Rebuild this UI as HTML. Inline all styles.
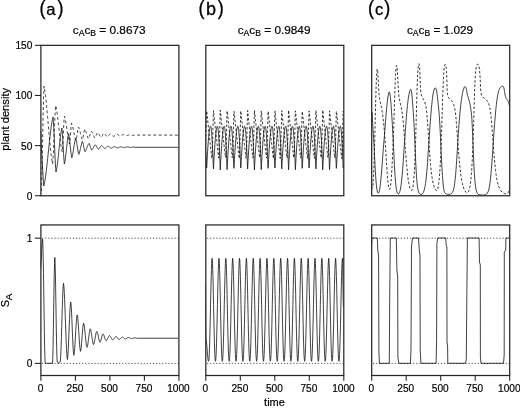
<!DOCTYPE html>
<html lang="en"><head><meta charset="utf-8"><title>Plant density and S_A time series</title>
<style>
html,body{margin:0;padding:0;background:#fff;}
body{width:520px;height:408px;overflow:hidden;}
svg{display:block;font-family:"Liberation Sans",sans-serif;}
.ax{fill:none;stroke:#262626;stroke-width:1.25;}
.tk{stroke:#262626;stroke-width:1.1;}
.ln{fill:none;stroke:#111;stroke-width:0.8;stroke-linejoin:round;}
.ds{fill:none;stroke:#111;stroke-width:0.8;stroke-dasharray:2.9 2.5;stroke-linejoin:round;}
.ds2{fill:none;stroke:#111;stroke-width:0.85;stroke-dasharray:2.5 1.9;stroke-linejoin:round;}
.ln2{fill:none;stroke:#1a1a1a;stroke-width:0.85;stroke-linejoin:round;}
.dot{fill:none;stroke:#444;stroke-width:1;stroke-dasharray:1.1 1.98;}
.t{font-size:11px;fill:#000;stroke:#000;stroke-width:0.2;}.tt{font-size:11.8px;fill:#000;stroke:#000;stroke-width:0.2;}.tn{font-size:11.5px;fill:#000;stroke:#000;stroke-width:0.2;}
.sub{font-size:8.6px;}
.lab{font-size:16.6px;fill:#000;stroke:#000;stroke-width:0.3;}.par{font-size:21px;fill:#000;stroke:#000;stroke-width:0.3;}
</style></head><body>
<svg width="520" height="408" viewBox="0 0 520 408">
<rect x="0" y="0" width="520" height="408" fill="#fff"/>
<defs>
<clipPath id="ct0"><rect x="40.5" y="45.5" width="138.0" height="150.0"/></clipPath>
<clipPath id="cb0"><rect x="40.5" y="225.5" width="138.0" height="150.0"/></clipPath>
<clipPath id="ct1"><rect x="205.5" y="45.5" width="138.0" height="150.0"/></clipPath>
<clipPath id="cb1"><rect x="205.5" y="225.5" width="138.0" height="150.0"/></clipPath>
<clipPath id="ct2"><rect x="371.5" y="45.5" width="138.0" height="150.0"/></clipPath>
<clipPath id="cb2"><rect x="371.5" y="225.5" width="138.0" height="150.0"/></clipPath>
</defs>
<line class="dot" x1="42.1" y1="238.2" x2="178.5" y2="238.2"/>
<line class="dot" x1="42.1" y1="363.4" x2="178.5" y2="363.4"/>
<line class="dot" x1="207.1" y1="238.2" x2="343.5" y2="238.2"/>
<line class="dot" x1="207.1" y1="363.4" x2="343.5" y2="363.4"/>
<line class="dot" x1="373.1" y1="238.2" x2="509.5" y2="238.2"/>
<line class="dot" x1="373.1" y1="363.4" x2="509.5" y2="363.4"/>
<g clip-path="url(#ct0)"><polyline class="ds" points="41.30,191.00 41.57,184.47 41.84,175.49 42.11,164.43 42.38,151.86 42.65,138.50 42.92,125.14 43.19,112.57 43.46,101.51 43.73,92.53 44.00,86.00 44.30,87.46 44.59,89.15 44.89,91.06 45.19,93.18 45.48,95.52 45.78,98.05 46.08,100.76 46.37,103.63 46.67,106.66 46.97,109.81 47.26,113.08 47.56,116.42 47.86,119.83 48.15,123.27 48.45,126.73 48.74,130.17 49.04,133.58 49.34,136.92 49.63,140.19 49.93,143.34 50.23,146.37 50.52,149.24 50.82,151.95 51.12,154.48 51.41,156.82 51.71,158.94 52.01,160.85 52.30,162.54 52.60,164.00 52.88,160.75 53.16,156.36 53.45,150.98 53.73,144.81 54.01,138.16 54.29,131.34 54.57,124.69 54.85,118.52 55.14,113.14 55.42,108.75 55.70,105.50 56.00,106.68 56.29,108.08 56.59,109.72 56.88,111.57 57.18,113.62 57.47,115.85 57.77,118.24 58.06,120.75 58.36,123.36 58.65,126.04 58.95,128.75 59.25,131.46 59.54,134.14 59.84,136.75 60.13,139.26 60.43,141.65 60.72,143.88 61.02,145.93 61.31,147.78 61.61,149.42 61.90,150.82 62.20,152.00 62.48,149.09 62.75,144.92 63.03,139.80 63.30,134.15 63.58,128.50 63.85,123.38 64.12,119.21 64.40,116.30 64.69,117.17 64.98,118.26 65.27,119.54 65.56,121.00 65.84,122.62 66.13,124.38 66.42,126.24 66.71,128.18 67.00,130.15 67.29,132.12 67.58,134.06 67.87,135.92 68.16,137.68 68.44,139.30 68.73,140.76 69.02,142.04 69.31,143.13 69.60,144.00 69.87,142.00 70.14,139.07 70.41,135.50 70.69,131.70 70.96,128.13 71.23,125.20 71.50,123.20 71.80,123.87 72.10,124.73 72.40,125.76 72.70,126.94 73.00,128.25 73.30,129.65 73.60,131.11 73.90,132.59 74.20,134.05 74.50,135.45 74.80,136.76 75.10,137.94 75.40,138.97 75.70,139.83 76.00,140.50 76.28,139.55 76.56,138.21 76.83,136.56 77.11,134.71 77.39,132.79 77.67,130.94 77.94,129.29 78.22,127.95 78.50,127.00 78.78,127.54 79.06,128.23 79.34,129.07 79.61,130.03 79.89,131.10 80.17,132.23 80.45,133.40 80.73,134.57 81.01,135.70 81.29,136.77 81.56,137.73 81.84,138.57 82.12,139.26 82.40,139.80 82.70,138.92 83.00,137.66 83.30,136.11 83.60,134.40 83.90,132.69 84.20,131.14 84.50,129.88 84.80,129.00 85.08,129.44 85.35,130.02 85.63,130.73 85.91,131.54 86.18,132.43 86.46,133.37 86.74,134.33 87.02,135.27 87.29,136.16 87.57,136.97 87.85,137.68 88.12,138.26 88.40,138.70 88.70,138.23 89.00,137.59 89.30,136.80 89.60,135.90 89.90,134.95 90.20,134.00 90.50,133.10 90.80,132.31 91.10,131.67 91.40,131.20 91.68,131.54 91.97,131.99 92.25,132.55 92.53,133.18 92.82,133.88 93.10,134.60 93.38,135.32 93.67,136.02 93.95,136.65 94.23,137.21 94.52,137.66 94.80,138.00 95.08,137.65 95.36,137.17 95.64,136.58 95.92,135.91 96.20,135.20 96.48,134.49 96.76,133.82 97.04,133.23 97.32,132.75 97.60,132.40 97.88,132.65 98.17,132.98 98.45,133.39 98.73,133.86 99.02,134.37 99.30,134.90 99.58,135.43 99.87,135.94 100.15,136.41 100.43,136.82 100.72,137.15 101.00,137.40 101.30,137.14 101.60,136.78 101.90,136.34 102.20,135.83 102.50,135.30 102.80,134.77 103.10,134.26 103.40,133.82 103.70,133.46 104.00,133.20 104.30,133.41 104.60,133.68 104.90,134.02 105.20,134.41 105.50,134.83 105.80,135.27 106.10,135.69 106.40,136.08 106.70,136.42 107.00,136.69 107.30,136.90 107.58,136.73 107.86,136.50 108.15,136.21 108.43,135.88 108.71,135.53 108.99,135.17 109.27,134.82 109.55,134.49 109.84,134.20 110.12,133.97 110.40,133.80 110.69,133.94 110.98,134.14 111.27,134.38 111.56,134.65 111.85,134.95 112.15,135.25 112.44,135.55 112.73,135.82 113.02,136.06 113.31,136.26 113.60,136.40 113.89,136.28 114.18,136.11 114.47,135.91 114.76,135.68 115.05,135.43 115.35,135.17 115.64,134.92 115.93,134.69 116.22,134.49 116.51,134.32 116.80,134.20 117.09,134.30 117.38,134.44 117.67,134.60 117.96,134.79 118.25,135.00 118.55,135.20 118.84,135.41 119.13,135.60 119.42,135.76 119.71,135.90 120.00,136.00 120.29,135.92 120.58,135.80 120.87,135.67 121.16,135.51 121.45,135.34 121.75,135.16 122.04,134.99 122.33,134.83 122.62,134.70 122.91,134.58 123.20,134.50 123.49,134.57 123.78,134.66 124.07,134.77 124.36,134.89 124.65,135.03 124.95,135.17 125.24,135.31 125.53,135.43 125.82,135.54 126.11,135.63 126.40,135.70 126.69,135.64 126.98,135.57 127.27,135.48 127.56,135.37 127.85,135.26 128.15,135.14 128.44,135.03 128.73,134.92 129.02,134.83 129.31,134.76 129.60,134.70 129.89,134.74 130.18,134.80 130.47,134.88 130.76,134.96 131.05,135.05 131.34,135.14 131.63,135.22 131.92,135.30 132.21,135.36 132.50,135.40 132.78,135.38 133.06,135.35 133.33,135.31 133.61,135.27 133.89,135.23 134.17,135.19 134.44,135.15 134.72,135.12 135.00,135.10 178.50,135.10"/><polyline class="ln" points="40.90,131.00 41.15,140.50 41.40,150.00 41.70,152.94 42.00,157.14 42.30,162.31 42.60,168.00 42.90,173.69 43.20,178.86 43.50,183.06 43.80,186.00 44.10,184.80 44.39,183.42 44.69,181.87 44.99,180.15 45.28,178.27 45.58,176.23 45.88,174.05 46.17,171.73 46.47,169.29 46.77,166.75 47.06,164.10 47.36,161.39 47.66,158.61 47.95,155.78 48.25,152.93 48.55,150.07 48.85,147.22 49.14,144.39 49.44,141.61 49.74,138.90 50.03,136.25 50.33,133.71 50.63,131.27 50.92,128.95 51.22,126.77 51.52,124.73 51.81,122.85 52.11,121.13 52.41,119.58 52.70,118.20 53.00,117.00 53.30,120.42 53.60,125.13 53.90,130.92 54.20,137.50 54.50,144.50 54.80,151.50 55.10,158.08 55.40,163.87 55.70,168.58 56.00,172.00 56.30,170.76 56.59,169.26 56.88,167.50 57.18,165.50 57.48,163.28 57.77,160.87 58.06,158.29 58.36,155.60 58.66,152.82 58.95,150.00 59.24,147.18 59.54,144.40 59.84,141.71 60.13,139.13 60.42,136.72 60.72,134.50 61.02,132.50 61.31,130.74 61.60,129.24 61.90,128.00 62.18,130.54 62.46,134.11 62.73,138.50 63.01,143.44 63.29,148.56 63.57,153.50 63.84,157.89 64.12,161.46 64.40,164.00 64.70,162.72 65.00,161.07 65.30,159.07 65.60,156.77 65.90,154.24 66.20,151.54 66.50,148.75 66.80,145.96 67.10,143.26 67.40,140.73 67.70,138.43 68.00,136.43 68.30,134.78 68.60,133.50 68.89,134.85 69.18,136.67 69.47,138.91 69.76,141.47 70.05,144.23 70.35,147.07 70.64,149.83 70.93,152.39 71.22,154.63 71.51,156.45 71.80,157.80 72.08,156.98 72.36,155.91 72.64,154.63 72.91,153.16 73.19,151.53 73.47,149.79 73.75,148.00 74.03,146.21 74.31,144.47 74.59,142.84 74.86,141.37 75.14,140.09 75.42,139.02 75.70,138.20 75.98,139.10 76.26,140.32 76.55,141.81 76.83,143.51 77.11,145.36 77.39,147.24 77.67,149.09 77.95,150.79 78.24,152.28 78.52,153.50 78.80,154.40 79.08,153.81 79.35,153.03 79.63,152.08 79.91,151.00 80.18,149.80 80.46,148.54 80.74,147.26 81.02,146.00 81.29,144.80 81.57,143.72 81.85,142.77 82.12,141.99 82.40,141.40 82.69,142.12 82.98,143.13 83.27,144.38 83.56,145.77 83.84,147.23 84.13,148.62 84.42,149.87 84.71,150.88 85.00,151.60 85.29,151.26 85.57,150.81 85.86,150.27 86.14,149.66 86.43,148.98 86.71,148.25 87.00,147.50 87.29,146.75 87.57,146.02 87.86,145.34 88.14,144.73 88.43,144.19 88.71,143.74 89.00,143.40 89.28,143.81 89.56,144.38 89.84,145.07 90.12,145.86 90.40,146.70 90.68,147.54 90.96,148.33 91.24,149.02 91.52,149.59 91.80,150.00 92.09,149.74 92.38,149.39 92.67,148.97 92.97,148.48 93.26,147.95 93.55,147.40 93.84,146.85 94.13,146.32 94.42,145.83 94.72,145.41 95.01,145.06 95.30,144.80 95.58,145.04 95.86,145.37 96.15,145.78 96.43,146.24 96.71,146.74 96.99,147.26 97.27,147.76 97.55,148.22 97.84,148.63 98.12,148.96 98.40,149.20 98.69,149.00 98.98,148.73 99.27,148.40 99.56,148.02 99.85,147.61 100.15,147.19 100.44,146.78 100.73,146.40 101.02,146.07 101.31,145.80 101.60,145.60 101.89,145.77 102.18,145.99 102.47,146.27 102.76,146.58 103.05,146.93 103.35,147.27 103.64,147.62 103.93,147.93 104.22,148.21 104.51,148.43 104.80,148.60 105.09,148.46 105.38,148.27 105.67,148.04 105.96,147.78 106.25,147.50 106.55,147.20 106.84,146.92 107.13,146.66 107.42,146.43 107.71,146.24 108.00,146.10 108.29,146.22 108.58,146.37 108.87,146.57 109.16,146.79 109.45,147.03 109.75,147.27 110.04,147.51 110.33,147.73 110.62,147.93 110.91,148.08 111.20,148.20 111.49,148.11 111.78,147.98 112.07,147.82 112.36,147.64 112.65,147.45 112.95,147.25 113.24,147.06 113.53,146.88 113.82,146.72 114.11,146.59 114.40,146.50 114.69,146.58 114.98,146.68 115.27,146.81 115.56,146.96 115.85,147.12 116.15,147.28 116.44,147.44 116.73,147.59 117.02,147.72 117.31,147.82 117.60,147.90 117.89,147.83 118.18,147.74 118.47,147.63 118.76,147.51 119.05,147.37 119.35,147.23 119.64,147.09 119.93,146.97 120.22,146.86 120.51,146.77 120.80,146.70 121.09,146.76 121.38,146.83 121.67,146.92 121.96,147.03 122.25,147.14 122.55,147.26 122.84,147.37 123.13,147.48 123.42,147.57 123.71,147.64 124.00,147.70 124.29,147.66 124.58,147.60 124.87,147.52 125.16,147.44 125.45,147.35 125.75,147.25 126.04,147.16 126.33,147.08 126.62,147.00 126.91,146.94 127.20,146.90 127.49,146.93 127.78,146.98 128.07,147.03 128.36,147.10 128.65,147.17 128.95,147.23 129.24,147.30 129.53,147.37 129.82,147.42 130.11,147.47 130.40,147.50 130.69,147.46 130.98,147.42 131.27,147.35 131.56,147.29 131.84,147.21 132.13,147.15 132.42,147.08 132.71,147.04 133.00,147.00 133.29,147.03 133.57,147.07 133.86,147.12 134.14,147.18 134.43,147.23 134.71,147.27 135.00,147.30 178.50,147.30"/></g>
<g clip-path="url(#cb0)"><polyline class="ln" points="40.50,268.07 40.76,266.47 41.02,263.25 41.29,258.79 41.55,253.66 41.81,248.53 42.08,244.07 42.34,240.85 42.60,239.25 42.89,245.00 43.18,256.37 43.47,272.33 43.76,291.28 44.04,311.27 44.33,330.22 44.62,346.18 44.91,357.55 45.20,363.30 52.50,363.30 52.79,357.43 53.08,345.60 53.36,329.21 53.65,310.36 53.94,291.51 54.22,275.12 54.51,263.29 54.80,257.42 55.07,262.26 55.33,271.83 55.60,285.25 55.87,301.20 56.13,318.02 56.40,333.96 56.67,347.39 56.93,356.96 57.20,361.80 57.47,361.93 57.73,362.20 58.00,362.55 58.27,362.90 58.53,363.17 58.80,363.30 59.08,363.12 59.36,362.76 59.64,362.33 59.92,361.97 60.20,361.80 60.50,359.10 60.80,353.96 61.10,346.69 61.40,337.75 61.70,327.76 62.00,317.40 62.30,307.40 62.60,298.47 62.90,291.19 63.20,286.06 63.50,283.36 63.78,285.21 64.06,288.55 64.34,293.27 64.61,299.19 64.89,306.05 65.17,313.58 65.45,321.45 65.73,329.32 66.01,336.85 66.29,343.71 66.56,349.63 66.84,354.35 67.12,357.69 67.40,359.54 67.70,357.56 68.00,353.79 68.30,348.44 68.60,341.87 68.90,334.53 69.20,326.92 69.50,319.57 69.80,313.00 70.10,307.66 70.40,303.88 70.70,301.90 70.98,303.74 71.26,307.23 71.55,312.18 71.83,318.27 72.11,325.07 72.39,332.12 72.67,338.92 72.95,345.00 73.24,349.95 73.52,353.45 73.80,355.28 74.08,354.06 74.37,351.77 74.65,348.54 74.93,344.52 75.22,339.96 75.50,335.11 75.78,330.26 76.07,325.69 76.35,321.68 76.63,318.44 76.92,316.16 77.20,314.93 77.50,316.19 77.80,318.58 78.10,321.96 78.40,326.11 78.70,330.76 79.00,335.57 79.30,340.22 79.60,344.37 79.90,347.76 80.20,350.14 80.50,351.40 80.78,350.43 81.06,348.58 81.35,345.97 81.63,342.75 81.91,339.16 82.19,335.44 82.47,331.85 82.75,328.63 83.04,326.02 83.32,324.17 83.60,323.20 83.88,323.94 84.17,325.31 84.45,327.25 84.73,329.65 85.02,332.39 85.30,335.30 85.58,338.20 85.87,340.94 86.15,343.34 86.43,345.28 86.72,346.65 87.00,347.39 87.30,346.75 87.60,345.54 87.90,343.82 88.20,341.70 88.50,339.34 88.80,336.89 89.10,334.53 89.40,332.41 89.70,330.69 90.00,329.48 90.30,328.84 90.59,329.38 90.88,330.41 91.17,331.86 91.46,333.64 91.75,335.64 92.05,337.71 92.34,339.70 92.63,341.49 92.92,342.94 93.21,343.97 93.50,344.50 93.80,344.05 94.10,343.19 94.40,341.97 94.70,340.47 95.00,338.80 95.30,337.06 95.60,335.38 95.90,333.88 96.20,332.66 96.50,331.80 96.80,331.35 97.09,331.72 97.38,332.44 97.67,333.45 97.96,334.69 98.25,336.08 98.55,337.52 98.84,338.91 99.13,340.15 99.42,341.16 99.71,341.87 100.00,342.25 100.30,341.92 100.60,341.27 100.90,340.36 101.20,339.26 101.50,338.05 101.80,336.85 102.10,335.74 102.40,334.83 102.70,334.19 103.00,333.85 103.29,334.09 103.58,334.54 103.87,335.18 104.16,335.97 104.45,336.85 104.75,337.76 105.04,338.63 105.33,339.42 105.62,340.06 105.91,340.51 106.20,340.75 106.50,340.57 106.80,340.22 107.10,339.73 107.40,339.13 107.70,338.46 108.00,337.77 108.30,337.10 108.60,336.50 108.90,336.01 109.20,335.66 109.50,335.48 109.79,335.63 110.08,335.92 110.37,336.33 110.66,336.83 110.95,337.39 111.25,337.97 111.54,338.52 111.83,339.02 112.12,339.43 112.41,339.72 112.70,339.87 113.00,339.75 113.30,339.53 113.60,339.22 113.90,338.83 114.20,338.40 114.50,337.95 114.80,337.52 115.10,337.14 115.40,336.82 115.70,336.60 116.00,336.49 116.29,336.58 116.58,336.77 116.87,337.04 117.16,337.37 117.45,337.74 117.75,338.12 118.04,338.48 118.33,338.81 118.62,339.08 118.91,339.27 119.20,339.37 119.48,339.29 119.76,339.14 120.05,338.93 120.33,338.68 120.61,338.39 120.89,338.09 121.17,337.80 121.45,337.55 121.74,337.34 122.02,337.19 122.30,337.11 122.58,337.18 122.86,337.30 123.15,337.47 123.43,337.69 123.71,337.93 123.99,338.18 124.27,338.42 124.55,338.63 124.84,338.80 125.12,338.93 125.40,338.99 125.68,338.94 125.96,338.84 126.25,338.70 126.53,338.53 126.81,338.34 127.09,338.14 127.37,337.95 127.65,337.78 127.94,337.64 128.22,337.54 128.50,337.49 128.78,337.53 129.06,337.60 129.35,337.71 129.63,337.83 129.91,337.98 130.19,338.13 130.47,338.27 130.75,338.40 131.04,338.50 131.32,338.58 131.60,338.62 131.89,338.59 132.18,338.53 132.47,338.45 132.76,338.35 133.05,338.24 133.34,338.13 133.63,338.03 133.92,337.95 134.21,337.89 134.50,337.86 134.78,337.88 135.06,337.92 135.33,337.96 135.61,338.02 135.89,338.08 136.17,338.14 136.44,338.19 136.72,338.22 137.00,338.24 178.50,338.24"/></g>
<g clip-path="url(#ct1)"><polyline class="ln2" points="205.50,150.00 206.10,156.76 206.30,161.71 206.50,167.12 206.70,168.02 206.90,163.95 207.10,160.20 207.30,156.66 207.50,153.29 207.70,150.10 207.90,147.07 208.10,144.21 208.30,141.53 208.50,139.04 208.70,136.75 208.90,134.67 209.09,132.80 209.29,131.15 209.49,129.72 209.69,128.54 209.89,127.59 210.09,126.88 210.29,126.43 210.49,126.21 210.69,126.30 210.89,126.85 211.09,127.87 211.29,129.35 211.49,131.28 211.69,133.64 211.89,136.42 212.09,139.60 212.29,143.14 212.49,147.04 212.69,151.27 212.89,155.81 213.09,160.69 213.29,165.99 213.49,168.91 213.69,164.73 213.89,160.93 214.09,157.35 214.29,153.95 214.49,150.72 214.69,147.66 214.89,144.76 215.09,142.05 215.29,139.52 215.49,137.19 215.69,135.07 215.88,133.15 216.08,131.46 216.28,129.99 216.48,128.76 216.68,127.76 216.88,127.00 217.08,126.50 217.28,126.24 217.48,126.25 217.68,126.70 217.88,127.63 218.08,129.02 218.28,130.86 218.48,133.14 218.68,135.84 218.88,138.93 219.08,142.41 219.28,146.24 219.48,150.40 219.68,154.88 219.88,159.69 220.08,164.88 220.28,169.87 220.48,165.52 220.68,161.67 220.88,158.05 221.08,154.62 221.28,151.35 221.48,148.25 221.68,145.33 221.88,142.58 222.08,140.01 222.28,137.64 222.48,135.47 222.68,133.52 222.87,131.78 223.07,130.26 223.27,128.98 223.47,127.94 223.67,127.14 223.87,126.58 224.07,126.27 224.27,126.22 224.47,126.58 224.67,127.41 224.87,128.71 225.07,130.46 225.27,132.65 225.47,135.27 225.67,138.29 225.87,141.69 226.07,145.44 226.27,149.54 226.47,153.96 226.67,158.70 226.87,163.81 227.07,169.60 227.27,166.33 227.47,162.41 227.67,158.76 227.87,155.29 228.07,151.99 228.27,148.86 228.47,145.90 228.67,143.11 228.87,140.51 229.07,138.10 229.27,135.89 229.47,133.89 229.66,132.11 229.86,130.55 230.06,129.22 230.26,128.13 230.46,127.28 230.66,126.67 230.86,126.31 231.06,126.20 231.26,126.47 231.46,127.20 231.66,128.41 231.86,130.07 232.06,132.18 232.26,134.71 232.46,137.65 232.66,140.98 232.86,144.67 233.06,148.70 233.26,153.05 233.46,157.73 233.66,162.75 233.86,168.32 234.06,167.15 234.26,163.17 234.46,159.47 234.66,155.97 234.86,152.63 235.06,149.47 235.26,146.47 235.46,143.65 235.66,141.01 235.86,138.56 236.06,136.31 236.26,134.27 236.46,132.45 236.65,130.84 236.85,129.47 237.05,128.33 237.25,127.43 237.45,126.77 237.65,126.36 237.85,126.20 238.05,126.38 238.25,127.02 238.45,128.13 238.65,129.70 238.85,131.72 239.05,134.17 239.25,137.03 239.45,140.28 239.65,143.90 239.85,147.87 240.05,152.16 240.25,156.77 240.45,161.72 240.65,167.14 240.85,168.01 241.05,163.94 241.25,160.19 241.45,156.65 241.65,153.29 241.85,150.09 242.05,147.06 242.25,144.20 242.45,141.53 242.65,139.04 242.85,136.75 243.05,134.66 243.25,132.79 243.45,131.14 243.64,129.72 243.84,128.53 244.04,127.59 244.24,126.88 244.44,126.42 244.64,126.21 244.84,126.30 245.04,126.85 245.24,127.87 245.44,129.35 245.64,131.29 245.84,133.65 246.04,136.43 246.24,139.61 246.44,143.15 246.64,147.05 246.84,151.28 247.04,155.82 247.24,160.70 247.44,166.00 247.64,168.90 247.84,164.72 248.04,160.92 248.24,157.34 248.44,153.94 248.64,150.71 248.84,147.65 249.04,144.76 249.24,142.04 249.44,139.52 249.64,137.19 249.84,135.06 250.04,133.15 250.24,131.45 250.43,129.99 250.63,128.75 250.83,127.76 251.03,127.00 251.23,126.50 251.43,126.24 251.63,126.25 251.83,126.71 252.03,127.63 252.23,129.02 252.43,130.87 252.63,133.15 252.83,135.84 253.03,138.94 253.23,142.42 253.43,146.25 253.63,150.41 253.83,154.89 254.03,159.70 254.23,164.90 254.43,169.85 254.63,165.51 254.83,161.66 255.03,158.04 255.23,154.61 255.43,151.34 255.63,148.25 255.83,145.32 256.03,142.57 256.23,140.01 256.43,137.64 256.63,135.47 256.83,133.51 257.03,131.77 257.23,130.26 257.42,128.98 257.62,127.94 257.82,127.13 258.02,126.58 258.22,126.27 258.42,126.22 258.62,126.58 258.82,127.41 259.02,128.71 259.22,130.46 259.42,132.66 259.62,135.27 259.82,138.29 260.02,141.69 260.22,145.45 260.42,149.55 260.62,153.97 260.82,158.71 261.02,163.82 261.22,169.61 261.42,166.32 261.62,162.40 261.82,158.75 262.02,155.28 262.22,151.98 262.42,148.85 262.62,145.89 262.82,143.10 263.02,140.50 263.22,138.09 263.42,135.89 263.62,133.89 263.82,132.10 264.02,130.54 264.21,129.22 264.41,128.12 264.61,127.27 264.81,126.67 265.01,126.31 265.21,126.20 265.41,126.47 265.61,127.21 265.81,128.41 266.01,130.08 266.21,132.18 266.41,134.72 266.61,137.66 266.81,140.99 267.01,144.68 267.21,148.71 267.41,153.07 267.61,157.74 267.81,162.77 268.01,168.34 268.21,167.14 268.41,163.16 268.61,159.46 268.81,155.96 269.01,152.63 269.21,149.46 269.41,146.47 269.61,143.65 269.81,141.01 270.01,138.56 270.21,136.31 270.41,134.27 270.61,132.44 270.81,130.84 271.01,129.46 271.20,128.32 271.40,127.42 271.60,126.77 271.80,126.36 272.00,126.20 272.20,126.38 272.40,127.02 272.60,128.14 272.80,129.71 273.00,131.73 273.20,134.18 273.40,137.04 273.60,140.29 273.80,143.91 274.00,147.88 274.20,152.17 274.40,156.78 274.60,161.73 274.80,167.15 275.00,168.00 275.20,163.93 275.40,160.18 275.60,156.64 275.80,153.28 276.00,150.08 276.20,147.05 276.40,144.19 276.60,141.52 276.80,139.03 277.00,136.74 277.20,134.66 277.40,132.79 277.60,131.14 277.80,129.72 277.99,128.53 278.19,127.58 278.39,126.88 278.59,126.42 278.79,126.21 278.99,126.30 279.19,126.86 279.39,127.88 279.59,129.36 279.79,131.29 279.99,133.66 280.19,136.44 280.39,139.61 280.59,143.16 280.79,147.06 280.99,151.29 281.19,155.84 281.39,160.72 281.59,166.02 281.79,168.88 281.99,164.71 282.19,160.91 282.39,157.33 282.59,153.94 282.79,150.70 282.99,147.64 283.19,144.75 283.39,142.04 283.59,139.51 283.79,137.18 283.99,135.06 284.19,133.14 284.39,131.45 284.59,129.98 284.79,128.75 284.98,127.75 285.18,127.00 285.38,126.49 285.58,126.24 285.78,126.25 285.98,126.71 286.18,127.64 286.38,129.03 286.58,130.87 286.78,133.15 286.98,135.85 287.18,138.95 287.38,142.43 287.58,146.26 287.78,150.42 287.98,154.90 288.18,159.71 288.38,164.91 288.58,169.84 288.78,165.50 288.98,161.65 289.18,158.03 289.38,154.60 289.58,151.34 289.78,148.24 289.98,145.31 290.18,142.56 290.38,140.00 290.58,137.63 290.78,135.46 290.98,133.51 291.18,131.77 291.38,130.26 291.58,128.98 291.77,127.93 291.97,127.13 292.17,126.58 292.37,126.27 292.57,126.22 292.77,126.58 292.97,127.41 293.17,128.71 293.37,130.47 293.57,132.66 293.77,135.28 293.97,138.30 294.17,141.70 294.37,145.46 294.57,149.56 294.77,153.98 294.97,158.73 295.17,163.84 295.37,169.63 295.57,166.31 295.77,162.40 295.97,158.74 296.17,155.27 296.37,151.97 296.57,148.84 296.77,145.88 296.97,143.10 297.17,140.50 297.37,138.09 297.57,135.88 297.77,133.88 297.97,132.10 298.17,130.54 298.37,129.21 298.57,128.12 298.76,127.27 298.96,126.67 299.16,126.31 299.36,126.20 299.56,126.47 299.76,127.21 299.96,128.42 300.16,130.08 300.36,132.19 300.56,134.73 300.76,137.67 300.96,141.00 301.16,144.69 301.36,148.72 301.56,153.08 301.76,157.75 301.96,162.78 302.16,168.35 302.36,167.13 302.56,163.15 302.76,159.45 302.96,155.95 303.16,152.62 303.36,149.45 303.56,146.46 303.76,143.64 303.96,141.00 304.16,138.55 304.36,136.30 304.56,134.26 304.76,132.44 304.96,130.83 305.16,129.46 305.36,128.32 305.55,127.42 305.75,126.77 305.95,126.36 306.15,126.20 306.35,126.38 306.55,127.02 306.75,128.14 306.95,129.71 307.15,131.73 307.35,134.19 307.55,137.05 307.75,140.30 307.95,143.92 308.15,147.89 308.35,152.18 308.55,156.79 308.75,161.75 308.95,167.17 309.15,167.99 309.35,163.92 309.55,160.17 309.75,156.63 309.95,153.27 310.15,150.07 310.35,147.04 310.55,144.19 310.75,141.51 310.95,139.03 311.15,136.74 311.35,134.65 311.55,132.78 311.75,131.13 311.95,129.71 312.15,128.53 312.35,127.58 312.54,126.88 312.74,126.42 312.94,126.21 313.14,126.30 313.34,126.86 313.54,127.88 313.74,129.36 313.94,131.30 314.14,133.66 314.34,136.45 314.54,139.62 314.74,143.17 314.94,147.07 315.14,151.30 315.34,155.85 315.54,160.73 315.74,166.03 315.94,168.87 316.14,164.70 316.34,160.90 316.54,157.32 316.74,153.93 316.94,150.70 317.14,147.63 317.34,144.74 317.54,142.03 317.74,139.51 317.94,137.18 318.14,135.05 318.34,133.14 318.54,131.45 318.74,129.98 318.94,128.75 319.14,127.75 319.34,127.00 319.53,126.49 319.73,126.24 319.93,126.25 320.13,126.71 320.33,127.64 320.53,129.03 320.73,130.88 320.93,133.16 321.13,135.86 321.33,138.96 321.53,142.44 321.73,146.27 321.93,150.43 322.13,154.92 322.33,159.73 322.53,164.93 322.73,169.83 322.93,165.49 323.13,161.64 323.33,158.02 323.53,154.59 323.73,151.33 323.93,148.23 324.13,145.31 324.33,142.56 324.53,139.99 324.73,137.63 324.93,135.46 325.13,133.50 325.33,131.77 325.53,130.25 325.73,128.97 325.93,127.93 326.13,127.13 326.32,126.58 326.52,126.27 326.72,126.22 326.92,126.58 327.12,127.42 327.32,128.72 327.52,130.47 327.72,132.67 327.92,135.29 328.12,138.31 328.32,141.71 328.52,145.47 328.72,149.57 328.92,154.00 329.12,158.74 329.32,163.85 329.52,169.65 329.72,166.30 329.92,162.39 330.12,158.73 330.32,155.26 330.52,151.97 330.72,148.84 330.92,145.88 331.12,143.09 331.32,140.49 331.52,138.08 331.72,135.87 331.92,133.88 332.12,132.09 332.32,130.54 332.52,129.21 332.72,128.12 332.92,127.27 333.12,126.67 333.31,126.31 333.51,126.20 333.71,126.47 333.91,127.21 334.11,128.42 334.31,130.09 334.51,132.20 334.71,134.73 334.91,137.68 335.11,141.00 335.31,144.70 335.51,148.73 335.71,153.09 335.91,157.77 336.11,162.79 336.31,168.37 336.51,167.12 336.71,163.14 336.91,159.44 337.11,155.94 337.31,152.61 337.51,149.45 337.71,146.45 337.91,143.63 338.11,140.99 338.31,138.55 338.51,136.30 338.71,134.26 338.91,132.43 339.11,130.83 339.31,129.46 339.51,128.32 339.71,127.42 339.91,126.77 340.10,126.36 340.30,126.20 340.50,126.38 340.70,127.03 340.90,128.14 341.10,129.72 341.30,131.74 341.50,134.19 341.70,137.06 341.90,140.31 342.10,143.93 342.30,147.90 342.50,152.19 342.70,156.81 342.90,161.76 343.10,167.18 343.30,167.97 343.50,163.91"/><polyline class="ds2" points="205.50,149.75 205.70,143.72 205.90,137.06 206.10,129.87 206.30,122.24 206.50,114.21 206.70,110.94 206.90,112.84 207.10,114.75 207.30,116.64 207.50,118.54 207.70,120.43 207.90,122.31 208.10,124.19 208.30,126.07 208.50,127.94 208.70,129.80 208.90,131.66 209.09,133.51 209.29,135.36 209.49,137.20 209.69,139.03 209.89,140.86 210.09,142.67 210.29,144.47 210.49,146.27 210.69,148.05 210.89,149.82 211.09,151.57 211.29,153.30 211.49,155.00 211.69,156.66 211.89,158.24 212.09,155.80 212.29,150.86 212.49,144.98 212.69,138.43 212.89,131.34 213.09,123.79 213.29,115.84 213.49,110.56 213.69,112.46 213.89,114.37 214.09,116.27 214.29,118.16 214.49,120.05 214.69,121.94 214.89,123.82 215.09,125.69 215.29,127.56 215.49,129.43 215.69,131.29 215.88,133.14 216.08,134.99 216.28,136.83 216.48,138.67 216.68,140.49 216.88,142.31 217.08,144.12 217.28,145.91 217.48,147.70 217.68,149.47 217.88,151.22 218.08,152.95 218.28,154.66 218.48,156.33 218.68,157.94 218.88,156.62 219.08,151.93 219.28,146.21 219.48,139.78 219.68,132.79 219.88,125.33 220.08,117.46 220.28,110.18 220.48,112.08 220.68,113.99 220.88,115.89 221.08,117.78 221.28,119.67 221.48,121.56 221.68,123.44 221.88,125.32 222.08,127.19 222.28,129.06 222.48,130.92 222.68,132.78 222.87,134.62 223.07,136.47 223.27,138.30 223.47,140.13 223.67,141.95 223.87,143.76 224.07,145.55 224.27,147.34 224.47,149.11 224.67,150.87 224.87,152.61 225.07,154.32 225.27,156.00 225.47,157.63 225.67,157.37 225.87,152.96 226.07,147.42 226.27,141.11 226.47,134.23 226.67,126.86 226.87,119.06 227.07,110.89 227.27,111.70 227.47,113.61 227.67,115.51 227.87,117.40 228.07,119.30 228.27,121.18 228.47,123.07 228.67,124.95 228.87,126.82 229.07,128.69 229.27,130.55 229.47,132.41 229.66,134.26 229.86,136.10 230.06,137.94 230.26,139.76 230.46,141.58 230.66,143.40 230.86,145.20 231.06,146.99 231.26,148.76 231.46,150.52 231.66,152.26 231.86,153.98 232.06,155.67 232.26,157.31 232.46,158.01 232.66,153.95 232.86,148.59 233.06,142.42 233.26,135.64 233.46,128.36 233.66,120.65 233.86,112.55 234.06,111.32 234.26,113.23 234.46,115.13 234.66,117.03 234.86,118.92 235.06,120.81 235.26,122.69 235.46,124.57 235.66,126.45 235.86,128.31 236.06,130.18 236.26,132.04 236.46,133.89 236.65,135.73 236.85,137.57 237.05,139.40 237.25,141.22 237.45,143.04 237.65,144.84 237.85,146.63 238.05,148.41 238.25,150.17 238.45,151.92 238.65,153.64 238.85,155.34 239.05,156.99 239.25,158.48 239.45,154.90 239.65,149.73 239.85,143.71 240.05,137.04 240.25,129.85 240.45,122.22 240.65,114.19 240.85,110.94 241.05,112.85 241.25,114.75 241.45,116.65 241.65,118.54 241.85,120.43 242.05,122.32 242.25,124.20 242.45,126.07 242.65,127.94 242.85,129.81 243.05,131.67 243.25,133.52 243.45,135.37 243.64,137.20 243.84,139.04 244.04,140.86 244.24,142.67 244.44,144.48 244.64,146.27 244.84,148.05 245.04,149.82 245.24,151.57 245.44,153.30 245.64,155.00 245.84,156.66 246.04,158.24 246.24,155.79 246.44,150.84 246.64,144.96 246.84,138.41 247.04,131.32 247.24,123.77 247.44,115.82 247.64,110.56 247.84,112.47 248.04,114.37 248.24,116.27 248.44,118.16 248.64,120.05 248.84,121.94 249.04,123.82 249.24,125.70 249.44,127.57 249.64,129.44 249.84,131.30 250.04,133.15 250.24,135.00 250.43,136.84 250.63,138.67 250.83,140.50 251.03,142.31 251.23,144.12 251.43,145.92 251.63,147.70 251.83,149.47 252.03,151.22 252.23,152.96 252.43,154.66 252.63,156.34 252.83,157.94 253.03,156.61 253.23,151.92 253.43,146.20 253.63,139.77 253.83,132.78 254.03,125.31 254.23,117.44 254.43,110.18 254.63,112.09 254.83,113.99 255.03,115.89 255.23,117.79 255.43,119.68 255.63,121.56 255.83,123.45 256.03,125.32 256.23,127.20 256.43,129.06 256.63,130.92 256.83,132.78 257.03,134.63 257.23,136.47 257.42,138.31 257.62,140.13 257.82,141.95 258.02,143.76 258.22,145.56 258.42,147.35 258.62,149.12 258.82,150.88 259.02,152.61 259.22,154.33 259.42,156.01 259.62,157.63 259.82,157.36 260.02,152.95 260.22,147.40 260.42,141.10 260.62,134.21 260.82,126.84 261.02,119.04 261.22,110.87 261.42,111.71 261.62,113.61 261.82,115.51 262.02,117.41 262.22,119.30 262.42,121.19 262.62,123.07 262.82,124.95 263.02,126.82 263.22,128.69 263.42,130.55 263.62,132.41 263.82,134.26 264.02,136.10 264.21,137.94 264.41,139.77 264.61,141.59 264.81,143.40 265.01,145.20 265.21,146.99 265.41,148.77 265.61,150.53 265.81,152.27 266.01,153.99 266.21,155.67 266.41,157.31 266.61,158.01 266.81,153.94 267.01,148.57 267.21,142.41 267.41,135.63 267.61,128.34 267.81,120.63 268.01,112.53 268.21,111.33 268.41,113.23 268.61,115.13 268.81,117.03 269.01,118.92 269.21,120.81 269.41,122.70 269.61,124.58 269.81,126.45 270.01,128.32 270.21,130.18 270.41,132.04 270.61,133.89 270.81,135.74 271.01,137.58 271.20,139.41 271.40,141.23 271.60,143.04 271.80,144.84 272.00,146.63 272.20,148.41 272.40,150.18 272.60,151.92 272.80,153.65 273.00,155.34 273.20,156.99 273.40,158.48 273.60,154.89 273.80,149.72 274.00,143.69 274.20,137.02 274.40,129.83 274.60,122.20 274.80,114.17 275.00,110.95 275.20,112.85 275.40,114.76 275.60,116.65 275.80,118.55 276.00,120.44 276.20,122.32 276.40,124.20 276.60,126.08 276.80,127.95 277.00,129.81 277.20,131.67 277.40,133.52 277.60,135.37 277.80,137.21 277.99,139.04 278.19,140.86 278.39,142.68 278.59,144.48 278.79,146.28 278.99,148.06 279.19,149.83 279.39,151.58 279.59,153.30 279.79,155.01 279.99,156.67 280.19,158.25 280.39,155.78 280.59,150.83 280.79,144.95 280.99,138.40 281.19,131.30 281.39,123.75 281.59,115.80 281.79,110.57 281.99,112.47 282.19,114.38 282.39,116.28 282.59,118.17 282.79,120.06 282.99,121.95 283.19,123.83 283.39,125.70 283.59,127.57 283.79,129.44 283.99,131.30 284.19,133.15 284.39,135.00 284.59,136.84 284.79,138.68 284.98,140.50 285.18,142.32 285.38,144.12 285.58,145.92 285.78,147.70 285.98,149.47 286.18,151.23 286.38,152.96 286.58,154.67 286.78,156.34 286.98,157.94 287.18,156.60 287.38,151.90 287.58,146.18 287.78,139.75 287.98,132.76 288.18,125.29 288.38,117.42 288.58,110.19 288.78,112.09 288.98,114.00 289.18,115.90 289.38,117.79 289.58,119.68 289.78,121.57 289.98,123.45 290.18,125.33 290.38,127.20 290.58,129.07 290.78,130.93 290.98,132.78 291.18,134.63 291.38,136.48 291.58,138.31 291.77,140.14 291.97,141.96 292.17,143.77 292.37,145.56 292.57,147.35 292.77,149.12 292.97,150.88 293.17,152.62 293.37,154.33 293.57,156.01 293.77,157.63 293.97,157.35 294.17,152.94 294.37,147.38 294.57,141.08 294.77,134.19 294.97,126.82 295.17,119.02 295.37,110.85 295.57,111.71 295.77,113.62 295.97,115.52 296.17,117.41 296.37,119.31 296.57,121.19 296.77,123.08 296.97,124.95 297.17,126.83 297.37,128.70 297.57,130.56 297.77,132.42 297.97,134.27 298.17,136.11 298.37,137.95 298.57,139.77 298.76,141.59 298.96,143.40 299.16,145.21 299.36,146.99 299.56,148.77 299.76,150.53 299.96,152.27 300.16,153.99 300.36,155.68 300.56,157.32 300.76,158.00 300.96,153.93 301.16,148.56 301.36,142.39 301.56,135.61 301.76,128.32 301.96,120.61 302.16,112.51 302.36,111.33 302.56,113.24 302.76,115.14 302.96,117.04 303.16,118.93 303.36,120.82 303.56,122.70 303.76,124.58 303.96,126.45 304.16,128.32 304.36,130.19 304.56,132.05 304.76,133.90 304.96,135.74 305.16,137.58 305.36,139.41 305.55,141.23 305.75,143.04 305.95,144.85 306.15,146.64 306.35,148.42 306.55,150.18 306.75,151.93 306.95,153.65 307.15,155.34 307.35,157.00 307.55,158.47 307.75,154.87 307.95,149.70 308.15,143.67 308.35,137.00 308.55,129.81 308.75,122.18 308.95,114.15 309.15,110.95 309.35,112.86 309.55,114.76 309.75,116.66 309.95,118.55 310.15,120.44 310.35,122.33 310.55,124.21 310.75,126.08 310.95,127.95 311.15,129.82 311.35,131.68 311.55,133.53 311.75,135.37 311.95,137.21 312.15,139.05 312.35,140.87 312.54,142.68 312.74,144.49 312.94,146.28 313.14,148.06 313.34,149.83 313.54,151.58 313.74,153.31 313.94,155.01 314.14,156.67 314.34,158.25 314.54,155.76 314.74,150.81 314.94,144.93 315.14,138.38 315.34,131.29 315.54,123.73 315.74,115.78 315.94,110.57 316.14,112.48 316.34,114.38 316.54,116.28 316.74,118.17 316.94,120.06 317.14,121.95 317.34,123.83 317.54,125.71 317.74,127.58 317.94,129.44 318.14,131.30 318.34,133.16 318.54,135.01 318.74,136.85 318.94,138.68 319.14,140.51 319.34,142.32 319.53,144.13 319.73,145.93 319.93,147.71 320.13,149.48 320.33,151.23 320.53,152.97 320.73,154.67 320.93,156.34 321.13,157.95 321.33,156.59 321.53,151.89 321.73,146.17 321.93,139.73 322.13,132.74 322.33,125.27 322.53,117.40 322.73,110.19 322.93,112.10 323.13,114.00 323.33,115.90 323.53,117.80 323.73,119.69 323.93,121.57 324.13,123.46 324.33,125.33 324.53,127.21 324.73,129.07 324.93,130.93 325.13,132.79 325.33,134.64 325.53,136.48 325.73,138.32 325.93,140.14 326.13,141.96 326.32,143.77 326.52,145.57 326.72,147.35 326.92,149.13 327.12,150.88 327.32,152.62 327.52,154.33 327.72,156.01 327.92,157.64 328.12,157.34 328.32,152.92 328.52,147.37 328.72,141.06 328.92,134.17 329.12,126.80 329.32,119.00 329.52,110.83 329.72,111.72 329.92,113.62 330.12,115.52 330.32,117.42 330.52,119.31 330.72,121.20 330.92,123.08 331.12,124.96 331.32,126.83 331.52,128.70 331.72,130.56 331.92,132.42 332.12,134.27 332.32,136.11 332.52,137.95 332.72,139.78 332.92,141.60 333.12,143.41 333.31,145.21 333.51,147.00 333.71,148.77 333.91,150.53 334.11,152.28 334.31,154.00 334.51,155.68 334.71,157.32 334.91,157.99 335.11,153.92 335.31,148.55 335.51,142.37 335.71,135.59 335.91,128.30 336.11,120.59 336.31,112.49 336.51,111.34 336.71,113.24 336.91,115.14 337.11,117.04 337.31,118.93 337.51,120.82 337.71,122.71 337.91,124.59 338.11,126.46 338.31,128.33 338.51,130.19 338.71,132.05 338.91,133.90 339.11,135.75 339.31,137.58 339.51,139.41 339.71,141.24 339.91,143.05 340.10,144.85 340.30,146.64 340.50,148.42 340.70,150.19 340.90,151.93 341.10,153.65 341.30,155.35 341.50,157.00 341.70,158.47 341.90,154.86 342.10,149.69 342.30,143.66 342.50,136.99 342.70,129.79 342.90,122.16 343.10,114.13 343.30,110.96 343.50,112.86"/></g>
<g clip-path="url(#cb1)"><polyline class="ln" points="205.50,285.61 205.53,286.51 205.55,288.43 205.57,291.30 205.60,294.99 205.62,299.35 205.65,304.20 205.68,309.33 205.70,314.53 205.72,319.58 205.75,324.29 205.78,328.47 205.80,331.99 205.83,334.75 205.85,336.69 205.88,337.82 205.90,338.24 206.07,338.63 206.24,339.48 206.41,340.73 206.57,342.35 206.74,344.26 206.91,346.38 207.08,348.63 207.25,350.91 207.42,353.12 207.59,355.18 207.76,357.02 207.93,358.56 208.09,359.76 208.26,360.61 208.43,361.11 208.60,361.30 208.82,360.48 209.04,358.25 209.26,354.46 209.47,349.06 209.69,342.17 209.91,333.98 210.13,324.77 210.35,314.88 210.57,304.71 210.79,294.67 211.01,285.18 211.22,276.64 211.44,269.42 211.66,263.82 211.88,260.06 212.10,258.30 212.31,260.06 212.52,263.82 212.73,269.42 212.94,276.64 213.15,285.18 213.36,294.67 213.57,304.71 213.78,314.88 213.99,324.77 214.20,333.98 214.41,342.17 214.62,349.06 214.83,354.46 215.04,358.25 215.25,360.48 215.46,361.30 215.68,360.48 215.90,358.25 216.12,354.46 216.34,349.06 216.55,342.17 216.77,333.98 216.99,324.77 217.21,314.88 217.43,304.71 217.65,294.67 217.87,285.18 218.09,276.64 218.30,269.42 218.52,263.82 218.74,260.06 218.96,258.30 219.17,260.06 219.38,263.82 219.59,269.42 219.80,276.64 220.01,285.18 220.22,294.67 220.43,304.71 220.64,314.88 220.85,324.77 221.06,333.98 221.27,342.17 221.48,349.06 221.69,354.46 221.90,358.25 222.11,360.48 222.32,361.30 222.54,360.48 222.76,358.25 222.98,354.46 223.19,349.06 223.41,342.17 223.63,333.98 223.85,324.77 224.07,314.88 224.29,304.71 224.51,294.67 224.73,285.18 224.94,276.64 225.16,269.42 225.38,263.82 225.60,260.06 225.82,258.30 226.03,260.06 226.24,263.82 226.45,269.42 226.66,276.64 226.87,285.18 227.08,294.67 227.29,304.71 227.50,314.88 227.71,324.77 227.92,333.98 228.13,342.17 228.34,349.06 228.55,354.46 228.76,358.25 228.97,360.48 229.18,361.30 229.40,360.48 229.62,358.25 229.84,354.46 230.06,349.06 230.27,342.17 230.49,333.98 230.71,324.77 230.93,314.88 231.15,304.71 231.37,294.67 231.59,285.18 231.81,276.64 232.02,269.42 232.24,263.82 232.46,260.06 232.68,258.30 232.89,260.06 233.10,263.82 233.31,269.42 233.52,276.64 233.73,285.18 233.94,294.67 234.15,304.71 234.36,314.88 234.57,324.77 234.78,333.98 234.99,342.17 235.20,349.06 235.41,354.46 235.62,358.25 235.83,360.48 236.04,361.30 236.26,360.48 236.48,358.25 236.70,354.46 236.91,349.06 237.13,342.17 237.35,333.98 237.57,324.77 237.79,314.88 238.01,304.71 238.23,294.67 238.45,285.18 238.66,276.64 238.88,269.42 239.10,263.82 239.32,260.06 239.54,258.30 239.75,260.06 239.96,263.82 240.17,269.42 240.38,276.64 240.59,285.18 240.80,294.67 241.01,304.71 241.22,314.88 241.43,324.77 241.64,333.98 241.85,342.17 242.06,349.06 242.27,354.46 242.48,358.25 242.69,360.48 242.90,361.30 243.12,360.48 243.34,358.25 243.56,354.46 243.78,349.06 243.99,342.17 244.21,333.98 244.43,324.77 244.65,314.88 244.87,304.71 245.09,294.67 245.31,285.18 245.53,276.64 245.74,269.42 245.96,263.82 246.18,260.06 246.40,258.30 246.61,260.06 246.82,263.82 247.03,269.42 247.24,276.64 247.45,285.18 247.66,294.67 247.87,304.71 248.08,314.88 248.29,324.77 248.50,333.98 248.71,342.17 248.92,349.06 249.13,354.46 249.34,358.25 249.55,360.48 249.76,361.30 249.98,360.48 250.20,358.25 250.42,354.46 250.63,349.06 250.85,342.17 251.07,333.98 251.29,324.77 251.51,314.88 251.73,304.71 251.95,294.67 252.17,285.18 252.38,276.64 252.60,269.42 252.82,263.82 253.04,260.06 253.26,258.30 253.47,260.06 253.68,263.82 253.89,269.42 254.10,276.64 254.31,285.18 254.52,294.67 254.73,304.71 254.94,314.88 255.15,324.77 255.36,333.98 255.57,342.17 255.78,349.06 255.99,354.46 256.20,358.25 256.41,360.48 256.62,361.30 256.84,360.48 257.06,358.25 257.28,354.46 257.50,349.06 257.71,342.17 257.93,333.98 258.15,324.77 258.37,314.88 258.59,304.71 258.81,294.67 259.03,285.18 259.25,276.64 259.46,269.42 259.68,263.82 259.90,260.06 260.12,258.30 260.33,260.06 260.54,263.82 260.75,269.42 260.96,276.64 261.17,285.18 261.38,294.67 261.59,304.71 261.80,314.88 262.01,324.77 262.22,333.98 262.43,342.17 262.64,349.06 262.85,354.46 263.06,358.25 263.27,360.48 263.48,361.30 263.70,360.48 263.92,358.25 264.14,354.46 264.36,349.06 264.57,342.17 264.79,333.98 265.01,324.77 265.23,314.88 265.45,304.71 265.67,294.67 265.89,285.18 266.11,276.64 266.32,269.42 266.54,263.82 266.76,260.06 266.98,258.30 267.19,260.06 267.40,263.82 267.61,269.42 267.82,276.64 268.03,285.18 268.24,294.67 268.45,304.71 268.66,314.88 268.87,324.77 269.08,333.98 269.29,342.17 269.50,349.06 269.71,354.46 269.92,358.25 270.13,360.48 270.34,361.30 270.56,360.48 270.78,358.25 271.00,354.46 271.21,349.06 271.43,342.17 271.65,333.98 271.87,324.77 272.09,314.88 272.31,304.71 272.53,294.67 272.75,285.18 272.96,276.64 273.18,269.42 273.40,263.82 273.62,260.06 273.84,258.30 274.05,260.06 274.26,263.82 274.47,269.42 274.68,276.64 274.89,285.18 275.10,294.67 275.31,304.71 275.52,314.88 275.73,324.77 275.94,333.98 276.15,342.17 276.36,349.06 276.57,354.46 276.78,358.25 276.99,360.48 277.20,361.30 277.42,360.48 277.64,358.25 277.86,354.46 278.07,349.06 278.29,342.17 278.51,333.98 278.73,324.77 278.95,314.88 279.17,304.71 279.39,294.67 279.61,285.18 279.82,276.64 280.04,269.42 280.26,263.82 280.48,260.06 280.70,258.30 280.91,260.06 281.12,263.82 281.33,269.42 281.54,276.64 281.75,285.18 281.96,294.67 282.17,304.71 282.38,314.88 282.59,324.77 282.80,333.98 283.01,342.17 283.22,349.06 283.43,354.46 283.64,358.25 283.85,360.48 284.06,361.30 284.28,360.48 284.50,358.25 284.72,354.46 284.94,349.06 285.15,342.17 285.37,333.98 285.59,324.77 285.81,314.88 286.03,304.71 286.25,294.67 286.47,285.18 286.69,276.64 286.90,269.42 287.12,263.82 287.34,260.06 287.56,258.30 287.77,260.06 287.98,263.82 288.19,269.42 288.40,276.64 288.61,285.18 288.82,294.67 289.03,304.71 289.24,314.88 289.45,324.77 289.66,333.98 289.87,342.17 290.08,349.06 290.29,354.46 290.50,358.25 290.71,360.48 290.92,361.30 291.14,360.48 291.36,358.25 291.58,354.46 291.80,349.06 292.01,342.17 292.23,333.98 292.45,324.77 292.67,314.88 292.89,304.71 293.11,294.67 293.33,285.18 293.55,276.64 293.76,269.42 293.98,263.82 294.20,260.06 294.42,258.30 294.63,260.06 294.84,263.82 295.05,269.42 295.26,276.64 295.47,285.18 295.68,294.67 295.89,304.71 296.10,314.88 296.31,324.77 296.52,333.98 296.73,342.17 296.94,349.06 297.15,354.46 297.36,358.25 297.57,360.48 297.78,361.30 298.00,360.48 298.22,358.25 298.44,354.46 298.65,349.06 298.87,342.17 299.09,333.98 299.31,324.77 299.53,314.88 299.75,304.71 299.97,294.67 300.19,285.18 300.40,276.64 300.62,269.42 300.84,263.82 301.06,260.06 301.28,258.30 301.49,260.06 301.70,263.82 301.91,269.42 302.12,276.64 302.33,285.18 302.54,294.67 302.75,304.71 302.96,314.88 303.17,324.77 303.38,333.98 303.59,342.17 303.80,349.06 304.01,354.46 304.22,358.25 304.43,360.48 304.64,361.30 304.86,360.48 305.08,358.25 305.30,354.46 305.51,349.06 305.73,342.17 305.95,333.98 306.17,324.77 306.39,314.88 306.61,304.71 306.83,294.67 307.05,285.18 307.26,276.64 307.48,269.42 307.70,263.82 307.92,260.06 308.14,258.30 308.35,260.06 308.56,263.82 308.77,269.42 308.98,276.64 309.19,285.18 309.40,294.67 309.61,304.71 309.82,314.88 310.03,324.77 310.24,333.98 310.45,342.17 310.66,349.06 310.87,354.46 311.08,358.25 311.29,360.48 311.50,361.30 311.72,360.48 311.94,358.25 312.16,354.46 312.38,349.06 312.59,342.17 312.81,333.98 313.03,324.77 313.25,314.88 313.47,304.71 313.69,294.67 313.91,285.18 314.12,276.64 314.34,269.42 314.56,263.82 314.78,260.06 315.00,258.30 315.21,260.06 315.42,263.82 315.63,269.42 315.84,276.64 316.05,285.18 316.26,294.67 316.47,304.71 316.68,314.88 316.89,324.77 317.10,333.98 317.31,342.17 317.52,349.06 317.73,354.46 317.94,358.25 318.15,360.48 318.36,361.30 318.58,360.48 318.80,358.25 319.02,354.46 319.24,349.06 319.45,342.17 319.67,333.98 319.89,324.77 320.11,314.88 320.33,304.71 320.55,294.67 320.77,285.18 320.99,276.64 321.20,269.42 321.42,263.82 321.64,260.06 321.86,258.30 322.07,260.06 322.28,263.82 322.49,269.42 322.70,276.64 322.91,285.18 323.12,294.67 323.33,304.71 323.54,314.88 323.75,324.77 323.96,333.98 324.17,342.17 324.38,349.06 324.59,354.46 324.80,358.25 325.01,360.48 325.22,361.30 325.44,360.48 325.66,358.25 325.88,354.46 326.10,349.06 326.31,342.17 326.53,333.98 326.75,324.77 326.97,314.88 327.19,304.71 327.41,294.67 327.63,285.18 327.85,276.64 328.06,269.42 328.28,263.82 328.50,260.06 328.72,258.30 328.93,260.06 329.14,263.82 329.35,269.42 329.56,276.64 329.77,285.18 329.98,294.67 330.19,304.71 330.40,314.88 330.61,324.77 330.82,333.98 331.03,342.17 331.24,349.06 331.45,354.46 331.66,358.25 331.87,360.48 332.08,361.30 332.30,360.48 332.52,358.25 332.74,354.46 332.95,349.06 333.17,342.17 333.39,333.98 333.61,324.77 333.83,314.88 334.05,304.71 334.27,294.67 334.49,285.18 334.70,276.64 334.92,269.42 335.14,263.82 335.36,260.06 335.58,258.30 335.79,260.06 336.00,263.82 336.21,269.42 336.42,276.64 336.63,285.18 336.84,294.67 337.05,304.71 337.26,314.88 337.47,324.77 337.68,333.98 337.89,342.17 338.10,349.06 338.31,354.46 338.52,358.25 338.73,360.48 338.94,361.30 339.16,360.48 339.38,358.25 339.60,354.46 339.81,349.06 340.03,342.17 340.25,333.98 340.47,324.77 340.69,314.88 340.91,304.71 341.13,294.67 341.35,285.18 341.56,276.64 341.78,269.42 342.00,263.82 342.22,260.06 342.44,258.30 342.51,259.13 342.57,260.90 342.64,263.55 342.70,266.96 342.77,270.99 342.84,275.47 342.90,280.21 342.97,285.01 343.04,289.67 343.10,294.02 343.17,297.89 343.24,301.14 343.30,303.69 343.37,305.48 343.43,306.53 343.50,306.92"/></g>
<g clip-path="url(#ct2)"><polyline class="ds2" points="371.50,186.00 371.57,186.19 371.71,186.56 371.91,187.12 372.19,187.88 372.44,187.88 372.68,187.12 372.90,185.62 373.10,183.38 373.30,180.44 373.50,176.81 373.70,172.50 373.90,167.50 374.10,161.88 374.30,155.62 374.50,148.75 374.70,141.25 374.90,133.44 375.10,125.31 375.30,116.88 375.50,108.12 375.70,100.25 375.90,93.25 376.10,87.12 376.30,81.88 376.49,77.53 376.68,74.07 376.86,71.53 377.04,69.88 377.21,69.05 377.39,69.05 377.56,69.88 377.74,71.53 377.92,73.89 378.11,76.96 378.30,80.75 378.50,85.25 378.71,89.19 378.94,92.56 379.18,95.38 379.43,97.62 379.73,99.75 380.09,101.75 380.51,103.62 380.99,105.38 381.45,107.44 381.90,109.81 382.34,112.50 382.76,115.50 383.18,118.88 383.59,122.62 384.00,126.75 384.40,131.25 384.80,136.31 385.20,141.94 385.60,148.12 386.00,154.88 386.39,161.12 386.76,166.88 387.12,172.12 387.47,176.88 387.83,180.88 388.19,184.12 388.56,186.62 388.94,188.38 389.31,189.25 389.69,189.25 390.06,188.38 390.44,186.62 390.81,183.81 391.17,179.94 391.53,175.00 391.88,169.00 392.21,162.75 392.54,156.25 392.85,149.50 393.15,142.50 393.43,135.56 393.68,128.69 393.90,121.88 394.10,115.12 394.30,108.50 394.50,102.00 394.70,95.62 394.90,89.38 395.10,83.94 395.30,79.31 395.50,75.50 395.70,72.50 395.89,70.03 396.08,68.07 396.26,66.65 396.44,65.75 396.61,65.43 396.79,65.68 396.96,66.50 397.14,67.90 397.32,70.07 397.51,73.03 397.70,76.75 397.90,81.25 398.11,85.31 398.34,88.94 398.57,92.12 398.82,94.88 399.14,97.44 399.53,99.81 399.99,102.00 400.51,104.00 401.03,106.31 401.53,108.94 402.01,111.88 402.49,115.12 402.94,118.94 403.38,123.31 403.80,128.25 404.20,133.75 404.64,139.62 405.11,145.88 405.63,152.50 406.17,159.50 406.71,165.75 407.24,171.25 407.75,176.00 408.25,180.00 408.77,183.36 409.33,186.09 409.90,188.17 410.50,189.62 411.07,190.35 411.62,190.35 412.15,189.62 412.65,188.17 413.11,185.77 413.54,182.43 413.92,178.12 414.28,172.88 414.60,167.06 414.90,160.69 415.18,153.75 415.43,146.25 415.66,138.75 415.89,131.25 416.10,123.75 416.30,116.25 416.50,108.94 416.70,101.81 416.90,94.88 417.10,88.12 417.30,82.34 417.50,77.53 417.70,73.69 417.90,70.81 418.09,68.42 418.28,66.53 418.46,65.11 418.64,64.19 418.81,63.76 418.99,63.82 419.16,64.38 419.34,65.43 419.51,67.15 419.67,69.55 419.83,72.62 419.97,76.38 420.12,79.94 420.27,83.31 420.43,86.50 420.57,89.50 420.80,92.00 421.10,94.00 421.48,95.50 421.93,96.50 422.40,97.50 422.90,98.50 423.43,99.50 423.98,100.50 424.48,101.62 424.94,102.88 425.36,104.25 425.74,105.75 426.09,107.62 426.41,109.88 426.71,112.50 426.99,115.50 427.27,118.88 427.56,122.62 427.85,126.75 428.15,131.25 428.48,136.12 428.83,141.38 429.20,147.00 429.60,153.00 430.05,158.81 430.55,164.44 431.10,169.88 431.70,175.12 432.40,179.66 433.20,183.49 434.10,186.60 435.10,189.00 435.98,190.39 436.73,190.76 437.35,190.12 437.85,188.48 438.31,186.24 438.74,183.41 439.12,180.00 439.47,176.00 439.80,171.75 440.10,167.25 440.38,162.50 440.62,157.50 440.86,152.19 441.09,146.56 441.30,140.62 441.50,134.38 441.70,128.12 441.90,121.88 442.10,115.62 442.30,109.38 442.50,103.31 442.70,97.44 442.90,91.75 443.10,86.25 443.30,81.38 443.50,77.12 443.70,73.50 443.90,70.50 444.11,68.11 444.34,66.34 444.57,65.18 444.82,64.62 445.07,64.35 445.32,64.35 445.57,64.62 445.82,65.18 446.06,66.46 446.27,68.49 446.46,71.25 446.64,74.75 446.79,78.31 446.93,81.94 447.05,85.62 447.15,89.38 447.33,92.41 447.59,94.72 447.94,96.31 448.36,97.19 448.85,97.97 449.40,98.68 450.01,99.29 450.69,99.81 451.34,100.45 451.96,101.20 452.56,102.06 453.14,103.04 453.67,104.30 454.16,105.85 454.60,107.69 455.00,109.81 455.38,112.34 455.73,115.28 456.05,118.62 456.35,122.38 456.66,126.44 456.99,130.81 457.32,135.50 457.68,140.50 458.04,145.44 458.41,150.31 458.80,155.12 459.20,159.88 459.64,164.44 460.11,168.81 460.63,173.00 461.17,177.00 461.75,180.50 462.35,183.50 462.97,186.00 463.62,188.00 464.29,189.66 464.96,190.99 465.65,191.98 466.35,192.62 467.00,192.89 467.60,192.76 468.15,192.25 468.65,191.35 469.12,190.05 469.57,188.35 470.00,186.25 470.40,183.75 470.78,180.75 471.12,177.25 471.45,173.25 471.75,168.75 472.04,163.88 472.31,158.62 472.57,153.00 472.82,147.00 473.06,140.75 473.29,134.25 473.50,127.50 473.70,120.50 473.91,113.50 474.12,106.50 474.34,99.50 474.56,92.50 474.79,86.38 475.01,81.12 475.24,76.75 475.46,73.25 475.74,70.33 476.08,67.99 476.48,66.24 476.93,65.06 477.36,64.35 477.79,64.10 478.20,64.31 478.60,64.99 478.96,66.24 479.29,68.08 479.57,70.50 479.82,73.50 480.05,76.75 480.25,80.25 480.43,84.00 480.57,88.00 480.83,91.22 481.18,93.66 481.63,95.31 482.17,96.19 482.79,96.97 483.46,97.68 484.20,98.29 485.00,98.81 485.75,99.42 486.45,100.11 487.10,100.88 487.70,101.73 488.26,102.80 488.79,104.10 489.27,105.62 489.73,107.38 490.14,109.44 490.51,111.81 490.85,114.50 491.15,117.50 491.46,121.00 491.79,125.00 492.12,129.50 492.47,134.50 492.84,139.50 493.21,144.50 493.60,149.50 494.00,154.50 494.45,159.50 494.95,164.50 495.50,169.50 496.10,174.50 496.77,178.81 497.52,182.44 498.35,185.38 499.25,187.62 500.14,189.47 501.01,190.93 501.88,191.98 502.72,192.62 503.55,193.14 504.35,193.51 505.12,193.75 505.88,193.85 506.54,193.80 507.11,193.60 507.60,193.25 508.00,192.75 508.36,192.19 508.67,191.56 508.94,190.88 509.16,190.12 509.33,189.56 509.44,189.19 509.50,189.00"/><polyline class="ln" points="372.20,112.00 372.23,112.81 372.29,114.44 372.39,116.88 372.51,120.12 372.67,123.50 372.88,127.00 373.11,130.62 373.39,134.38 373.68,139.06 373.99,144.69 374.32,151.25 374.68,158.75 375.02,165.56 375.37,171.69 375.72,177.12 376.08,181.88 376.44,185.76 376.81,188.79 377.20,190.95 377.60,192.25 378.00,192.96 378.40,193.09 378.80,192.62 379.20,191.58 379.61,189.66 380.04,186.89 380.48,183.25 380.93,178.75 381.36,174.00 381.79,169.00 382.20,163.75 382.60,158.25 382.97,153.25 383.32,148.75 383.65,144.75 383.95,141.25 384.25,137.62 384.55,133.88 384.85,130.00 385.15,126.00 385.48,121.88 385.83,117.62 386.20,113.25 386.60,108.75 386.97,104.88 387.32,101.62 387.65,99.00 387.95,97.00 388.23,95.31 388.49,93.94 388.74,92.88 388.96,92.12 389.19,91.81 389.41,91.94 389.64,92.50 389.86,93.50 390.09,94.88 390.31,96.62 390.54,98.75 390.76,101.25 391.00,104.19 391.25,107.56 391.51,111.38 391.79,115.62 392.06,119.94 392.32,124.31 392.57,128.75 392.82,133.25 393.10,138.50 393.40,144.50 393.72,151.25 394.08,158.75 394.44,165.62 394.81,171.88 395.20,177.50 395.60,182.50 396.02,186.56 396.47,189.69 396.95,191.88 397.45,193.12 397.96,193.81 398.49,193.94 399.02,193.50 399.57,192.50 400.11,190.69 400.64,188.06 401.15,184.62 401.65,180.38 402.12,175.69 402.57,170.56 403.00,165.00 403.40,159.00 403.78,153.44 404.12,148.31 404.45,143.62 404.75,139.38 405.06,135.06 405.37,130.69 405.69,126.25 406.01,121.75 406.35,117.44 406.70,113.31 407.06,109.38 407.44,105.62 407.81,102.31 408.17,99.44 408.53,97.00 408.88,95.00 409.22,93.28 409.56,91.82 409.89,90.65 410.21,89.75 410.51,89.30 410.79,89.30 411.04,89.75 411.26,90.65 411.48,91.82 411.69,93.28 411.90,95.00 412.10,97.00 412.34,99.75 412.61,103.25 412.92,107.50 413.28,112.50 413.60,117.50 413.90,122.50 414.18,127.50 414.43,132.50 414.69,138.12 414.96,144.38 415.25,151.25 415.55,158.75 415.88,165.62 416.22,171.88 416.60,177.50 417.00,182.50 417.46,186.56 417.97,189.69 418.54,191.88 419.16,193.12 419.81,194.00 420.49,194.50 421.19,194.62 421.91,194.38 422.61,193.69 423.27,192.56 423.90,191.00 424.50,189.00 425.05,186.50 425.55,183.50 426.00,180.00 426.40,176.00 426.79,171.75 427.16,167.25 427.53,162.50 427.88,157.50 428.21,152.62 428.54,147.88 428.85,143.25 429.15,138.75 429.45,134.31 429.75,129.94 430.05,125.62 430.35,121.38 430.68,117.12 431.03,112.88 431.40,108.62 431.80,104.38 432.19,100.69 432.56,97.56 432.92,95.00 433.28,93.00 433.63,91.33 433.99,89.99 434.36,88.99 434.74,88.31 435.10,87.97 435.45,87.97 435.79,88.31 436.11,88.99 436.43,90.12 436.74,91.71 437.05,93.75 437.35,96.25 437.66,99.00 437.99,102.00 438.32,105.25 438.68,108.75 439.00,112.38 439.30,116.12 439.57,120.00 439.82,124.00 440.06,128.25 440.29,132.75 440.50,137.50 440.70,142.50 440.93,147.75 441.19,153.25 441.49,159.00 441.81,165.00 442.14,170.50 442.46,175.50 442.79,180.00 443.11,184.00 443.47,187.27 443.86,189.81 444.27,191.61 444.73,192.69 445.45,193.51 446.45,194.07 447.73,194.38 449.27,194.42 450.59,194.12 451.66,193.46 452.50,192.44 453.10,191.06 453.66,189.09 454.19,186.53 454.67,183.38 455.13,179.62 455.55,175.44 455.95,170.81 456.32,165.75 456.68,160.25 457.00,155.06 457.30,150.19 457.57,145.62 457.82,141.38 458.09,137.12 458.38,132.88 458.69,128.62 459.01,124.38 459.35,120.19 459.70,116.06 460.06,112.00 460.44,108.00 460.82,104.38 461.21,101.12 461.60,98.25 462.00,95.75 462.40,93.56 462.80,91.69 463.20,90.12 463.60,88.88 463.96,87.90 464.29,87.20 464.57,86.77 464.82,86.62 465.07,86.61 465.32,86.74 465.57,87.00 465.82,87.40 466.09,88.14 466.36,89.21 466.65,90.62 466.95,92.38 467.27,94.00 467.62,95.50 468.00,96.88 468.40,98.12 468.79,99.44 469.16,100.81 469.53,102.25 469.88,103.75 470.22,105.50 470.57,107.50 470.92,109.75 471.28,112.25 471.60,115.50 471.90,119.50 472.18,124.25 472.43,129.75 472.68,135.56 472.93,141.69 473.18,148.12 473.43,154.88 473.70,161.25 474.00,167.25 474.32,172.88 474.68,178.12 475.06,182.56 475.49,186.19 475.95,189.00 476.45,191.00 477.00,192.56 477.60,193.69 478.25,194.38 478.95,194.62 479.88,194.81 481.03,194.94 482.40,195.00 484.00,195.00 485.36,194.69 486.49,194.06 487.38,193.12 488.03,191.88 488.63,190.12 489.17,187.88 489.67,185.12 490.13,181.88 490.56,178.12 490.99,173.88 491.40,169.12 491.80,163.88 492.18,158.69 492.54,153.56 492.89,148.50 493.21,143.50 493.54,138.62 493.86,133.88 494.19,129.25 494.51,124.75 494.86,120.38 495.22,116.12 495.60,112.00 496.00,108.00 496.40,104.38 496.80,101.12 497.20,98.25 497.60,95.75 498.01,93.59 498.44,91.78 498.87,90.31 499.33,89.19 499.83,88.24 500.39,87.46 501.01,86.86 501.69,86.44 502.26,86.19 502.74,86.13 503.11,86.25 503.39,86.55 503.64,87.09 503.88,87.86 504.10,88.88 504.30,90.12 504.51,91.41 504.74,92.72 504.98,94.06 505.23,95.44 505.53,96.62 505.88,97.62 506.27,98.44 506.73,99.06 507.15,99.69 507.55,100.31 507.92,100.94 508.28,101.56 508.58,102.25 508.84,103.00 509.06,103.81 509.24,104.69 509.37,105.34 509.46,105.78 509.50,106.00"/></g>
<g clip-path="url(#cb2)"><polyline class="ln" points="371.50,247.00 371.90,238.00 377.30,238.00 377.80,250.00 378.60,256.00 378.90,351.00 379.40,363.30 389.30,363.30 389.70,300.00 390.30,238.00 396.30,238.00 396.90,270.00 397.70,277.00 397.90,358.00 398.90,363.30 410.40,363.30 411.00,350.00 411.50,246.00 412.60,238.00 418.50,238.00 419.30,250.00 420.00,256.00 420.20,349.00 420.90,363.30 436.10,363.30 436.60,340.00 436.90,243.00 437.80,238.00 445.70,238.00 446.20,245.00 446.90,247.00 447.00,342.00 447.60,346.00 447.80,363.30 465.50,363.30 466.30,359.00 466.80,300.00 467.40,238.00 479.10,238.00 479.50,262.00 480.30,265.00 480.40,357.00 481.00,363.30 503.50,363.30 504.20,355.00 504.30,252.00 505.70,250.00 505.90,238.00 509.50,238.00"/></g>
<rect class="ax" x="40.90" y="45.35" width="138.00" height="150.40"/>
<rect class="ax" x="40.90" y="224.95" width="138.00" height="150.55"/>
<rect class="ax" x="205.80" y="45.35" width="138.00" height="150.40"/>
<rect class="ax" x="205.80" y="224.95" width="138.00" height="150.55"/>
<rect class="ax" x="371.70" y="45.35" width="138.00" height="150.40"/>
<rect class="ax" x="371.70" y="224.95" width="138.00" height="150.55"/>
<line class="tk" x1="34.9" y1="195.75" x2="40.9" y2="195.75"/>
<text class="tn" transform="translate(32.3,199.7) scale(0.88,1)" text-anchor="end">0</text>
<line class="tk" x1="34.9" y1="145.62" x2="40.9" y2="145.62"/>
<text class="tn" transform="translate(32.3,149.5) scale(0.88,1)" text-anchor="end">50</text>
<line class="tk" x1="34.9" y1="95.48" x2="40.9" y2="95.48"/>
<text class="tn" transform="translate(32.3,99.4) scale(0.88,1)" text-anchor="end">100</text>
<line class="tk" x1="34.9" y1="45.35" x2="40.9" y2="45.35"/>
<text class="tn" transform="translate(32.3,49.2) scale(0.88,1)" text-anchor="end">150</text>
<line class="tk" x1="34.9" y1="238.20" x2="40.9" y2="238.20"/>
<text class="tn" transform="translate(32.3,242.1) scale(0.88,1)" text-anchor="end">1</text>
<line class="tk" x1="34.9" y1="363.40" x2="40.9" y2="363.40"/>
<text class="tn" transform="translate(32.3,367.3) scale(0.88,1)" text-anchor="end">0</text>
<line class="tk" x1="40.90" y1="375.5" x2="40.90" y2="380.8" />
<text class="tn" transform="translate(40.5,392.1) scale(0.88,1)" text-anchor="middle">0</text>
<line class="tk" x1="75.40" y1="375.5" x2="75.40" y2="380.8" />
<text class="tn" transform="translate(75.0,392.1) scale(0.88,1)" text-anchor="middle">250</text>
<line class="tk" x1="109.90" y1="375.5" x2="109.90" y2="380.8" />
<text class="tn" transform="translate(109.5,392.1) scale(0.88,1)" text-anchor="middle">500</text>
<line class="tk" x1="144.40" y1="375.5" x2="144.40" y2="380.8" />
<text class="tn" transform="translate(144.0,392.1) scale(0.88,1)" text-anchor="middle">750</text>
<line class="tk" x1="178.90" y1="375.5" x2="178.90" y2="380.8" />
<text class="tn" transform="translate(178.5,392.1) scale(0.88,1)" text-anchor="middle">1000</text>
<line class="tk" x1="205.80" y1="375.5" x2="205.80" y2="380.8" />
<text class="tn" transform="translate(205.4,392.1) scale(0.88,1)" text-anchor="middle">0</text>
<line class="tk" x1="240.30" y1="375.5" x2="240.30" y2="380.8" />
<text class="tn" transform="translate(239.9,392.1) scale(0.88,1)" text-anchor="middle">250</text>
<line class="tk" x1="274.80" y1="375.5" x2="274.80" y2="380.8" />
<text class="tn" transform="translate(274.4,392.1) scale(0.88,1)" text-anchor="middle">500</text>
<line class="tk" x1="309.30" y1="375.5" x2="309.30" y2="380.8" />
<text class="tn" transform="translate(308.9,392.1) scale(0.88,1)" text-anchor="middle">750</text>
<line class="tk" x1="343.80" y1="375.5" x2="343.80" y2="380.8" />
<text class="tn" transform="translate(343.4,392.1) scale(0.88,1)" text-anchor="middle">1000</text>
<line class="tk" x1="371.70" y1="375.5" x2="371.70" y2="380.8" />
<text class="tn" transform="translate(371.3,392.1) scale(0.88,1)" text-anchor="middle">0</text>
<line class="tk" x1="406.20" y1="375.5" x2="406.20" y2="380.8" />
<text class="tn" transform="translate(405.8,392.1) scale(0.88,1)" text-anchor="middle">250</text>
<line class="tk" x1="440.70" y1="375.5" x2="440.70" y2="380.8" />
<text class="tn" transform="translate(440.3,392.1) scale(0.88,1)" text-anchor="middle">500</text>
<line class="tk" x1="475.20" y1="375.5" x2="475.20" y2="380.8" />
<text class="tn" transform="translate(474.8,392.1) scale(0.88,1)" text-anchor="middle">750</text>
<line class="tk" x1="509.70" y1="375.5" x2="509.70" y2="380.8" />
<text class="tn" transform="translate(509.3,392.1) scale(0.88,1)" text-anchor="middle">1000</text>
<text class="t" x="274.5" y="406.4" text-anchor="middle">time</text>
<text class="t" style="font-size:11.2px" transform="translate(8.8,119.3) rotate(-90)" text-anchor="middle">plant density</text>
<text class="t" transform="translate(9.2,307.2) rotate(-90)">S<tspan style="font-size:9.8px" dy="2.6" dx="-0.3">A</tspan></text>
<text class="tt" x="109.2" y="34.3" text-anchor="middle">c<tspan class="sub" dy="2.1">A</tspan><tspan dy="-2.1">c</tspan><tspan class="sub" dy="2.1">B</tspan><tspan dy="-2.1"> = 0.8673</tspan></text>
<text class="tt" x="274.1" y="34.3" text-anchor="middle">c<tspan class="sub" dy="2.1">A</tspan><tspan dy="-2.1">c</tspan><tspan class="sub" dy="2.1">B</tspan><tspan dy="-2.1"> = 0.9849</tspan></text>
<text class="tt" x="440.0" y="34.3" text-anchor="middle">c<tspan class="sub" dy="2.1">A</tspan><tspan dy="-2.1">c</tspan><tspan class="sub" dy="2.1">B</tspan><tspan dy="-2.1"> = 1.029</tspan></text>
<text class="par" transform="translate(39.5,14.9) scale(0.86,1)">(</text>
<text class="lab" style="font-size:16.6px" x="46.3" y="15.3">a</text>
<text class="par" transform="translate(57.5,14.9) scale(0.86,1)">)</text>
<text class="par" transform="translate(198.4,14.9) scale(0.86,1)">(</text>
<text class="lab" style="font-size:18.0px" x="206.0" y="15.3">b</text>
<text class="par" transform="translate(217.8,14.9) scale(0.86,1)">)</text>
<text class="par" transform="translate(368.1,14.9) scale(0.86,1)">(</text>
<text class="lab" style="font-size:16.6px" x="375.0" y="15.3">c</text>
<text class="par" transform="translate(384.3,14.9) scale(0.86,1)">)</text>
</svg>
</body></html>
